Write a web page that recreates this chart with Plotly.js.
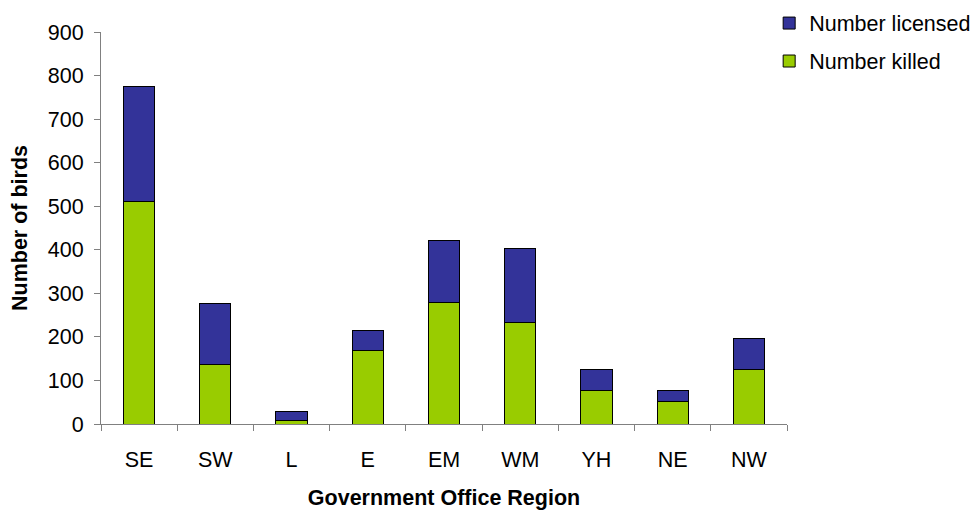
<!DOCTYPE html>
<html>
<head>
<meta charset="utf-8">
<script src="https://cdn.plot.ly/plotly-3.0.1.min.js"></script>
<style>html,body{margin:0;padding:0;background:#fff;}#chart{width:979px;height:511px;}</style>
</head>
<body>
<div id="chart"></div>
<script>
const regions = ["SE", "SW", "L", "E", "EM", "WM", "YH", "NE", "NW"];
const numberKilled = [512, 136, 9, 168, 280, 234, 77, 51, 126];
const numberLicensed = [263, 141, 19, 46, 141, 170, 49, 26, 70];
const yTicks = [0, 100, 200, 300, 400, 500, 600, 700, 800, 900];

const font = "Liberation Sans, Arial, sans-serif";
const fs = 21.5;

const traces = [
  {
    type: "bar", name: "Number killed", x: regions, y: numberKilled,
    legendgroup: "k", legendrank: 2,
    marker: {color: "#99CC00", line: {color: "#000000", width: 1}}
  },
  {
    type: "bar", name: "Number licensed", x: regions, y: numberLicensed,
    legendgroup: "l", legendrank: 1,
    marker: {color: "#333399", line: {color: "#000000", width: 1}}
  }
];

const layout = {
  width: 979, height: 511,
  margin: {l: 101, r: 192, t: 32, b: 87, autoexpand: false},
  barmode: "stack",
  bargap: 0.59,
  paper_bgcolor: "#ffffff",
  plot_bgcolor: "#ffffff",
  font: {family: font, size: fs, color: "#000000"},
  showlegend: true,
  legend: {
    x: 0.974, xanchor: "left", y: 1.075, yanchor: "top",
    traceorder: "grouped", tracegroupgap: 7,
    font: {family: font, size: fs, color: "#000000"},
    bgcolor: "rgba(0,0,0,0)"
  },
  xaxis: {
    type: "category",
    showline: true, linecolor: "#808080", linewidth: 1,
    ticks: "outside", tickson: "boundaries", ticklen: 6, tickcolor: "#808080",
    ticklabelstandoff: 16,
    showgrid: false, zeroline: false,
    tickfont: {family: font, size: fs, color: "#000000"},
    title: {text: "<b>Government Office Region</b>", font: {family: font, size: fs, color: "#000000"}, standoff: 19}
  },
  yaxis: {
    range: [0, 900],
    tickvals: yTicks,
    showline: true, linecolor: "#808080", linewidth: 1,
    ticks: "outside", ticklen: 6, tickcolor: "#808080",
    ticklabelstandoff: 6,
    showgrid: false, zeroline: false,
    tickfont: {family: font, size: fs, color: "#000000"},
    title: {text: "<b>Number of birds</b>", font: {family: font, size: fs, color: "#000000"}, standoff: 14}
  }
};

Plotly.newPlot("chart", traces, layout, {displayModeBar: false, staticPlot: true});
</script>
</body>
</html>
